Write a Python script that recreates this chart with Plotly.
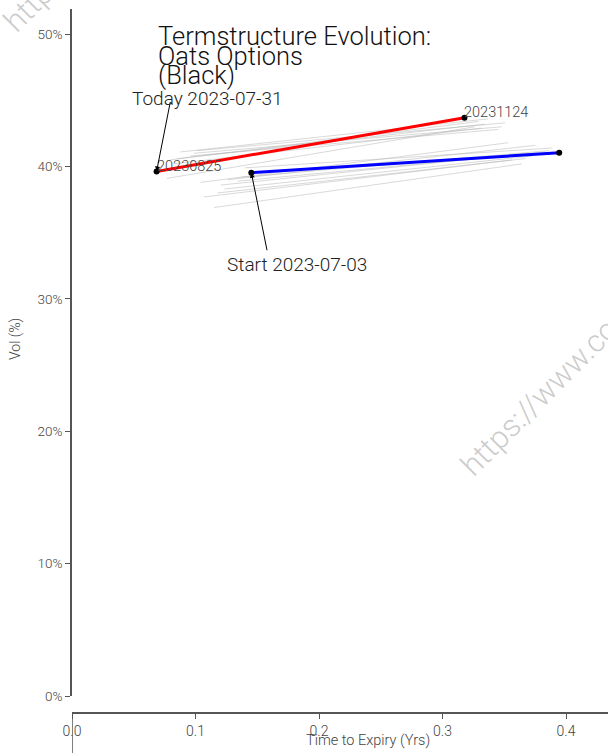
import plotly.graph_objects as go

# ---------------- data ----------------
gray_dates = ['2023-07-05', '2023-07-06', '2023-07-07', '2023-07-10', '2023-07-11',
              '2023-07-12', '2023-07-13', '2023-07-14', '2023-07-17', '2023-07-18',
              '2023-07-19', '2023-07-20', '2023-07-21', '2023-07-24', '2023-07-25',
              '2023-07-26', '2023-07-27', '2023-07-28']
gray_front_tte = [0.1397, 0.1370, 0.1342, 0.1260, 0.1233, 0.1205, 0.1178, 0.1151, 0.1068,
                  0.1041, 0.1014, 0.0986, 0.0959, 0.0877, 0.0849, 0.0822, 0.0795, 0.0767]
gray_back_tte = [0.3890, 0.3863, 0.3836, 0.3753, 0.3726, 0.3699, 0.3671, 0.3644, 0.3562,
                 0.3534, 0.3507, 0.3479, 0.3452, 0.3370, 0.3342, 0.3315, 0.3288, 0.3260]
gray_front_vol = [39.9, 39.2, 38.9, 39.0, 38.3, 38.6, 38.0, 36.9, 37.7,
                  38.8, 41.2, 41.0, 40.8, 41.1, 40.6, 40.2, 40.5, 39.1]
gray_back_vol = [41.4, 41.2, 41.1, 41.6, 40.8, 41.0, 40.6, 40.2, 40.5,
                 41.8, 43.3, 43.0, 42.8, 43.6, 43.2, 42.9, 43.4, 43.0]

start_label = 'Start 2023-07-03'
start_tte = [0.1452, 0.3945]
start_vol = [39.53, 41.04]

today_label = 'Today 2023-07-31'
today_tte = [0.0685, 0.3178]
today_vol = [39.63, 43.69]
expiry_labels = ['20230825', '20231124']

y_ticks = [0, 10, 20, 30, 40, 50]
y_tick_labels = ['0%', '10%', '20%', '30%', '40%', '50%']
x_ticks = [0.0, 0.1, 0.2, 0.3, 0.4]
x_tick_labels = ['0.0', '0.1', '0.2', '0.3', '0.4']

title_lines = ['Termstructure Evolution:', 'Oats Options', '(Black)']
watermark = 'https://www.commodity-charts.com'

# ---------------- layout geometry (page pixels) ----------------
W, H = 608, 753
ML, MR, MT, MB = 72, 0, 9, 0
PW, PH = W - ML - MR, H - MT - MB
X_SCALE = 1235.0  # px per unit of time to expiry


def px_x(px):
    return (px - ML) / PW


def px_y(py):
    return (H - MB - py) / PH


FONT = 'Roboto'
AX_COL = '#555555'
TXT_COL = '#444444'

fig = go.Figure()

for i in range(len(gray_dates)):
    fig.add_trace(go.Scatter(
        x=[gray_front_tte[i], gray_back_tte[i]],
        y=[gray_front_vol[i], gray_back_vol[i]],
        mode='lines', line=dict(color='rgba(180,180,180,0.5)', width=1),
        name=gray_dates[i], showlegend=False, hoverinfo='skip'))

fig.add_trace(go.Scatter(
    x=start_tte, y=start_vol, mode='lines+markers',
    line=dict(color='#0000ff', width=3),
    marker=dict(color='black', size=6), name=start_label, showlegend=False))

fig.add_trace(go.Scatter(
    x=today_tte, y=today_vol, mode='lines+markers',
    line=dict(color='#ff0000', width=3),
    marker=dict(color='black', size=6), name=today_label, showlegend=False))

annotations = []
# expiry labels on today's curve
for xv, yv, lab in zip(today_tte, today_vol, expiry_labels):
    annotations.append(dict(x=xv, y=yv, xref='x', yref='y', text=lab, showarrow=False,
                            xanchor='left', yanchor='middle', yshift=5, xshift=-2,
                            font=dict(family=FONT, size=14.5, color=TXT_COL, weight=300)))

# arrows
annotations.append(dict(x=today_tte[0], y=today_vol[0], xref='x', yref='y', text='',
                        showarrow=True, arrowhead=2, arrowsize=1, arrowwidth=1,
                        arrowcolor='black', ax=14, ay=-71, standoff=0))
annotations.append(dict(x=today_tte[0], y=today_vol[0], xref='x', yref='y', text=today_label,
                        showarrow=False, xshift=51, yshift=73,
                        font=dict(family=FONT, size=19, color='#222222', weight=300)))
annotations.append(dict(x=start_tte[0], y=start_vol[0], xref='x', yref='y', text='',
                        showarrow=True, arrowhead=2, arrowsize=1, arrowwidth=1,
                        arrowcolor='black', ax=16, ay=79, standoff=0))
annotations.append(dict(x=start_tte[0], y=start_vol[0], xref='x', yref='y', text=start_label,
                        showarrow=False, xshift=46, yshift=-92,
                        font=dict(family=FONT, size=19, color='#222222', weight=300)))

# title lines
for k, line in enumerate(title_lines):
    annotations.append(dict(x=px_x(156), y=px_y(36 + 19.7 * k), xref='paper', yref='paper',
                            text=line, showarrow=False, xanchor='left', yanchor='middle',
                            font=dict(family=FONT, size=25.5, color='#111111', weight=300)))

# axis titles
annotations.append(dict(x=px_x(15), y=px_y(339), xref='paper', yref='paper', text='Vol (%)',
                        showarrow=False, textangle=-90, xanchor='center', yanchor='middle',
                        font=dict(family=FONT, size=14, color=TXT_COL, weight=300)))
annotations.append(dict(x=px_x(368), y=px_y(740), xref='paper', yref='paper',
                        text='Time to Expiry (Yrs)', showarrow=False,
                        xanchor='center', yanchor='middle',
                        font=dict(family=FONT, size=14.5, color=TXT_COL, weight=300)))

# watermarks
for (wx, wy) in [(450, 486), (-7, 42)]:
    annotations.append(dict(x=px_x(wx), y=px_y(wy), xref='paper', yref='paper',
                            text=watermark, showarrow=False, textangle=-45,
                            xanchor='left', yanchor='bottom',
                            font=dict(family=FONT, size=31, color='rgba(160,160,160,0.55)',
                                      weight=300)))

x_pos = px_y(713)
fig.update_layout(
    width=W, height=H,
    margin=dict(l=ML, r=MR, t=MT, b=MB, autoexpand=False),
    paper_bgcolor='white', plot_bgcolor='white',
    font=dict(family=FONT, color=TXT_COL, size=13, weight=300),
    showlegend=False,
    annotations=annotations,
    xaxis=dict(range=[0, PW / X_SCALE], tickvals=x_ticks, ticktext=x_tick_labels,
               anchor='free', position=x_pos, showline=True, linecolor=AX_COL, linewidth=1.5,
               ticks='outside', ticklen=5, tickcolor=AX_COL, showgrid=False, zeroline=False,
               tickfont=dict(family=FONT, size=14, color=TXT_COL, weight=300)),
    yaxis=dict(range=[0, 51.9], domain=[px_y(696), 1], tickvals=y_ticks, ticktext=y_tick_labels,
               showline=True, linecolor=AX_COL, linewidth=1.5, ticks='outside', ticklen=5,
               tickcolor=AX_COL, showgrid=False, zeroline=False,
               tickfont=dict(family=FONT, size=13.5, color=TXT_COL, weight=300)),
    shapes=[dict(type='line', xref='x', yref='paper', x0=0, x1=0, y0=0, y1=x_pos,
                 line=dict(color=AX_COL, width=1.5))],
)

fig.write_html(
    'out.html',
    config={'displayModeBar': False},
    post_script="document.body.style.margin='0';"
                "document.body.style.overflow='hidden';"
                "document.documentElement.style.overflow='hidden';",
)
